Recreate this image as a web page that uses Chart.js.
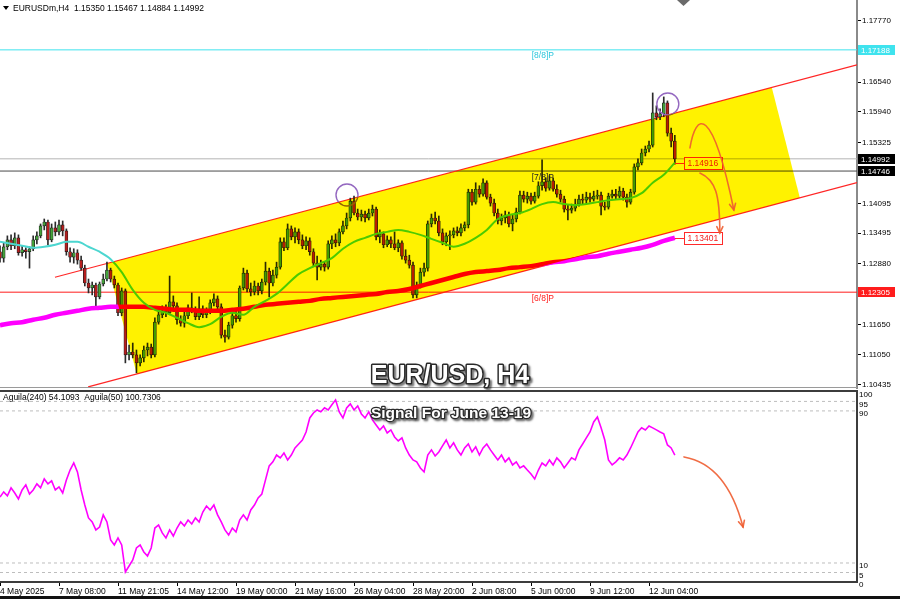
<!DOCTYPE html>
<html>
<head>
<meta charset="utf-8">
<script src="https://cdn.jsdelivr.net/npm/chart.js@4.4.1/dist/chart.umd.min.js"></script>
<style>
html, body { margin: 0; padding: 0; background: #fff; }
#wrap { position: relative; width: 900px; height: 599px; overflow: hidden; background: #fff; }
#main { position: absolute; left: 0; top: 0; }
#ind { position: absolute; left: 0; top: 380px; }
#frame { position: absolute; left: 0; top: 0; width: 900px; height: 599px; box-sizing: border-box;
         border-bottom: 3px solid #111; pointer-events: none; }
</style>
</head>
<body>
<div id="wrap">
  <canvas id="main" width="900" height="390"></canvas>
  <canvas id="ind" width="900" height="219"></canvas>
  <div id="frame"></div>
</div>
<script>
// H4 bars, one every 4 hours, time label every 16 bars
const timeLabels = ['4 May 2025', '7 May 08:00', '11 May 21:05', '14 May 12:00', '19 May 00:00', '21 May 16:00',
    '26 May 04:00', '28 May 20:00', '2 Jun 08:00', '5 Jun 00:00', '9 Jun 12:00', '12 Jun 04:00'];
const LABEL_EVERY = 16;

const opens = [
    1.1312, 1.1299, 1.1322, 1.1336, 1.1324, 1.1340, 1.1310, 1.1316, 1.1312, 1.1318, 1.1336, 1.1344, 1.1364, 1.1372, 1.1336, 1.1360,
    1.1352, 1.1366, 1.1354, 1.1312, 1.1301, 1.1310, 1.1295, 1.1279, 1.1249, 1.1239, 1.1245, 1.1221, 1.1247, 1.1257, 1.1275, 1.1257,
    1.1245, 1.1189, 1.1233, 1.1104, 1.1110, 1.1104, 1.1088, 1.1098, 1.1114, 1.1120, 1.1104, 1.1170, 1.1185, 1.1193, 1.1189, 1.1211,
    1.1203, 1.1175, 1.1168, 1.1183, 1.1199, 1.1193, 1.1181, 1.1197, 1.1185, 1.1193, 1.1209, 1.1217, 1.1201, 1.1144, 1.1140, 1.1164,
    1.1183, 1.1177, 1.1239, 1.1269, 1.1237, 1.1231, 1.1243, 1.1233, 1.1251, 1.1273, 1.1249, 1.1265, 1.1281, 1.1332, 1.1320, 1.1358,
    1.1342, 1.1352, 1.1336, 1.1324, 1.1334, 1.1312, 1.1289, 1.1281, 1.1287, 1.1281, 1.1328, 1.1336, 1.1330, 1.1352, 1.1364, 1.1380,
    1.1414, 1.1390, 1.1382, 1.1388, 1.1380, 1.1390, 1.1398, 1.1342, 1.1348, 1.1326, 1.1336, 1.1328, 1.1320, 1.1330, 1.1303, 1.1295,
    1.1285, 1.1225, 1.1245, 1.1271, 1.1279, 1.1368, 1.1380, 1.1374, 1.1350, 1.1332, 1.1344, 1.1346, 1.1354, 1.1350, 1.1360, 1.1366,
    1.1432, 1.1412, 1.1438, 1.1428, 1.1451, 1.1422, 1.1410, 1.1390, 1.1374, 1.1380, 1.1386, 1.1368, 1.1378, 1.1392, 1.1426, 1.1418,
    1.1424, 1.1414, 1.1424, 1.1445, 1.1453, 1.1440, 1.1455, 1.1438, 1.1428, 1.1418, 1.1398, 1.1396, 1.1400, 1.1408, 1.1418, 1.1416,
    1.1422, 1.1418, 1.1424, 1.1426, 1.1404, 1.1402, 1.1424, 1.1428, 1.1424, 1.1434, 1.1422, 1.1412, 1.1432, 1.1483, 1.1491, 1.1511,
    1.1519, 1.1527, 1.1592, 1.1584, 1.1590, 1.1612, 1.1551, 1.15350
];
const highs = [
    1.1324, 1.1330, 1.1344, 1.1346, 1.1350, 1.1346, 1.1324, 1.1320, 1.1322, 1.1344, 1.1352, 1.1368, 1.1378, 1.1376, 1.1368, 1.1372,
    1.1376, 1.1374, 1.1358, 1.1320, 1.1318, 1.1316, 1.1303, 1.1285, 1.1257, 1.1251, 1.1249, 1.1251, 1.1267, 1.1291, 1.1279, 1.1263,
    1.1249, 1.1239, 1.1237, 1.1124, 1.1128, 1.1114, 1.1104, 1.1122, 1.1128, 1.1126, 1.1179, 1.1195, 1.1203, 1.1205, 1.1263, 1.1223,
    1.1209, 1.1183, 1.1191, 1.1205, 1.1229, 1.1201, 1.1221, 1.1203, 1.1199, 1.1215, 1.1227, 1.1223, 1.1207, 1.1154, 1.1170, 1.1189,
    1.1193, 1.1243, 1.1279, 1.1275, 1.1249, 1.1253, 1.1249, 1.1257, 1.1291, 1.1279, 1.1275, 1.1291, 1.1340, 1.1340, 1.1368, 1.1364,
    1.1360, 1.1358, 1.1346, 1.1342, 1.1340, 1.1318, 1.1303, 1.1295, 1.1291, 1.1334, 1.1344, 1.1348, 1.1358, 1.1374, 1.1390, 1.1420,
    1.1424, 1.1398, 1.1396, 1.1394, 1.1398, 1.1406, 1.1402, 1.1356, 1.1352, 1.1344, 1.1342, 1.1352, 1.1336, 1.1334, 1.1316, 1.1305,
    1.1291, 1.1251, 1.1279, 1.1289, 1.1374, 1.1388, 1.1392, 1.1384, 1.1358, 1.1350, 1.1354, 1.1360, 1.1362, 1.1368, 1.1372, 1.1438,
    1.1438, 1.1451, 1.1445, 1.1459, 1.1455, 1.1428, 1.1418, 1.1398, 1.1388, 1.1394, 1.1392, 1.1386, 1.1400, 1.1434, 1.1434, 1.1432,
    1.1430, 1.1432, 1.1453, 1.1497, 1.1461, 1.1465, 1.1461, 1.1447, 1.1436, 1.1424, 1.1406, 1.1408, 1.1418, 1.1426, 1.1428, 1.1432,
    1.1430, 1.1434, 1.1436, 1.1432, 1.1412, 1.1430, 1.1436, 1.1438, 1.1443, 1.1440, 1.1428, 1.1438, 1.1489, 1.1499, 1.1519, 1.1525,
    1.1535, 1.1632, 1.1606, 1.1600, 1.1624, 1.1616, 1.1561, 1.15467
];
const lows = [
    1.1291, 1.1291, 1.1316, 1.1316, 1.1318, 1.1305, 1.1303, 1.1299, 1.1279, 1.1314, 1.1328, 1.1340, 1.1356, 1.1326, 1.1332, 1.1344,
    1.1346, 1.1344, 1.1305, 1.1291, 1.1289, 1.1287, 1.1275, 1.1243, 1.1229, 1.1225, 1.1195, 1.1217, 1.1243, 1.1253, 1.1251, 1.1239,
    1.1183, 1.1183, 1.1088, 1.1094, 1.1098, 1.1068, 1.1082, 1.1090, 1.1102, 1.1098, 1.1100, 1.1166, 1.1179, 1.1181, 1.1185, 1.1197,
    1.1166, 1.1162, 1.1160, 1.1177, 1.1189, 1.1175, 1.1175, 1.1179, 1.1179, 1.1187, 1.1203, 1.1195, 1.1138, 1.1130, 1.1136, 1.1158,
    1.1170, 1.1172, 1.1235, 1.1231, 1.1223, 1.1225, 1.1225, 1.1227, 1.1245, 1.1221, 1.1243, 1.1259, 1.1277, 1.1314, 1.1316, 1.1336,
    1.1330, 1.1328, 1.1318, 1.1316, 1.1305, 1.1283, 1.1255, 1.1275, 1.1273, 1.1277, 1.1318, 1.1322, 1.1324, 1.1348, 1.1358, 1.1374,
    1.1386, 1.1376, 1.1374, 1.1372, 1.1376, 1.1384, 1.1336, 1.1330, 1.1320, 1.1322, 1.1320, 1.1316, 1.1312, 1.1297, 1.1289, 1.1279,
    1.1219, 1.1219, 1.1239, 1.1263, 1.1273, 1.1362, 1.1368, 1.1344, 1.1326, 1.1324, 1.1316, 1.1340, 1.1344, 1.1344, 1.1354, 1.1360,
    1.1406, 1.1408, 1.1422, 1.1424, 1.1418, 1.1404, 1.1384, 1.1368, 1.1366, 1.1370, 1.1362, 1.1354, 1.1372, 1.1388, 1.1412, 1.1410,
    1.1408, 1.1410, 1.1420, 1.1436, 1.1434, 1.1436, 1.1434, 1.1422, 1.1412, 1.1392, 1.1376, 1.1390, 1.1394, 1.1404, 1.1408, 1.1410,
    1.1412, 1.1414, 1.1418, 1.1386, 1.1396, 1.1398, 1.1420, 1.1418, 1.1420, 1.1416, 1.1402, 1.1408, 1.1428, 1.1477, 1.1487, 1.1505,
    1.1513, 1.1523, 1.1578, 1.1578, 1.1584, 1.1545, 1.1523, 1.14884
];
const closes = [
    1.1299, 1.1322, 1.1336, 1.1324, 1.1340, 1.1310, 1.1316, 1.1312, 1.1318, 1.1336, 1.1344, 1.1364, 1.1372, 1.1336, 1.1360, 1.1352,
    1.1366, 1.1354, 1.1312, 1.1301, 1.1310, 1.1295, 1.1279, 1.1249, 1.1239, 1.1245, 1.1221, 1.1247, 1.1257, 1.1275, 1.1257, 1.1245,
    1.1189, 1.1233, 1.1104, 1.1110, 1.1104, 1.1088, 1.1098, 1.1114, 1.1120, 1.1104, 1.1170, 1.1185, 1.1193, 1.1189, 1.1211, 1.1203,
    1.1175, 1.1168, 1.1183, 1.1199, 1.1193, 1.1181, 1.1197, 1.1185, 1.1193, 1.1209, 1.1217, 1.1201, 1.1144, 1.1140, 1.1164, 1.1183,
    1.1177, 1.1239, 1.1269, 1.1237, 1.1231, 1.1243, 1.1233, 1.1251, 1.1273, 1.1249, 1.1265, 1.1281, 1.1332, 1.1320, 1.1358, 1.1342,
    1.1352, 1.1336, 1.1324, 1.1334, 1.1312, 1.1289, 1.1281, 1.1287, 1.1281, 1.1328, 1.1336, 1.1330, 1.1352, 1.1364, 1.1380, 1.1414,
    1.1390, 1.1382, 1.1388, 1.1380, 1.1390, 1.1398, 1.1342, 1.1348, 1.1326, 1.1336, 1.1328, 1.1320, 1.1330, 1.1303, 1.1295, 1.1285,
    1.1225, 1.1245, 1.1271, 1.1279, 1.1368, 1.1380, 1.1374, 1.1350, 1.1332, 1.1344, 1.1346, 1.1354, 1.1350, 1.1360, 1.1366, 1.1432,
    1.1412, 1.1438, 1.1428, 1.1451, 1.1422, 1.1410, 1.1390, 1.1374, 1.1380, 1.1386, 1.1368, 1.1378, 1.1392, 1.1426, 1.1418, 1.1424,
    1.1414, 1.1424, 1.1445, 1.1453, 1.1440, 1.1455, 1.1438, 1.1428, 1.1418, 1.1398, 1.1396, 1.1400, 1.1408, 1.1418, 1.1416, 1.1422,
    1.1418, 1.1424, 1.1426, 1.1404, 1.1402, 1.1424, 1.1428, 1.1424, 1.1434, 1.1422, 1.1412, 1.1432, 1.1483, 1.1491, 1.1511, 1.1519,
    1.1527, 1.1592, 1.1584, 1.1590, 1.1612, 1.1551, 1.1535, 1.14992
];

// moving averages, one value every MA_STEP bars
const MA_STEP = 3;
const fastMA = [
    1.1332, 1.1328, 1.1324, 1.1320, 1.1322, 1.1326, 1.1332, 1.1332, 1.1322, 1.1312, 1.1297, 1.1271, 1.1235, 1.1209, 1.1195, 1.1189,
    1.1179, 1.1168, 1.1160, 1.1166, 1.1181, 1.1189, 1.1185, 1.1201, 1.1213, 1.1227, 1.1247, 1.1267, 1.1279, 1.1289, 1.1299, 1.1318,
    1.1332, 1.1340, 1.1348, 1.1352, 1.1356, 1.1352, 1.1346, 1.1338, 1.1330, 1.1322, 1.1328, 1.1340, 1.1356, 1.1378, 1.1386, 1.1390,
    1.1398, 1.1408, 1.1412, 1.1408, 1.1406, 1.1408, 1.1412, 1.1416, 1.1418, 1.1420, 1.1430, 1.1451, 1.1467, 1.14916
];
const slowMA = [
    1.1164, 1.1168, 1.1170, 1.1175, 1.1179, 1.1185, 1.1189, 1.1193, 1.1197, 1.1199, 1.1201, 1.1201, 1.1201, 1.1201, 1.1199, 1.1197,
    1.1195, 1.1195, 1.1193, 1.1193, 1.1193, 1.1195, 1.1197, 1.1201, 1.1205, 1.1207, 1.1209, 1.1211, 1.1213, 1.1217, 1.1219, 1.1221,
    1.1223, 1.1225, 1.1227, 1.1231, 1.1233, 1.1237, 1.1243, 1.1249, 1.1255, 1.1261, 1.1267, 1.1271, 1.1273, 1.1275, 1.1279, 1.1281,
    1.1283, 1.1287, 1.1291, 1.1293, 1.1297, 1.1301, 1.1303, 1.1308, 1.1312, 1.1316, 1.1320, 1.1326, 1.1334, 1.13401
];

// Aguila(240) oscillator, one value per bar
const aguila = [
    44.7, 47.4, 45.3, 49.5, 46.8, 43.7, 48.4, 51.1, 46.3, 48.4, 51.6, 49.5, 54.2, 51.6, 53.2, 48.4,
    50.0, 46.8, 53.7, 58.9, 62.6, 57.9, 48.4, 40.5, 33.7, 31.6, 27.4, 28.9, 35.3, 31.6, 22.1, 19.5,
    23.2, 19.5, 5.3, 8.4, 11.6, 17.9, 19.5, 15.8, 13.7, 17.9, 28.4, 30.0, 25.8, 23.2, 27.4, 24.2,
    28.4, 31.6, 29.5, 32.6, 30.5, 33.7, 31.6, 36.8, 40.0, 37.9, 40.5, 35.3, 31.6, 27.4, 24.7, 28.4,
    26.3, 32.6, 35.3, 32.6, 37.9, 40.5, 44.2, 46.3, 53.7, 61.1, 63.2, 66.8, 65.3, 67.9, 64.2, 66.8,
    70.5, 72.6, 74.7, 78.9, 86.3, 88.9, 90.5, 89.5, 91.6, 90.5, 93.2, 95.8, 89.5, 86.3, 91.6, 93.7,
    90.5, 92.6, 88.4, 86.3, 89.5, 85.3, 82.6, 80.0, 82.1, 78.4, 80.0, 76.3, 74.2, 75.8, 70.5, 66.8,
    64.2, 63.2, 60.0, 57.9, 66.8, 69.5, 66.3, 68.4, 71.6, 74.7, 70.5, 73.2, 69.5, 66.8, 70.5, 72.6,
    68.4, 71.1, 66.8, 70.5, 72.6, 69.5, 66.8, 64.2, 66.8, 63.2, 65.3, 61.6, 63.2, 60.0, 61.1, 58.9,
    56.8, 54.2, 58.9, 62.6, 61.1, 64.2, 61.6, 65.3, 63.2, 60.0, 62.6, 65.3, 64.2, 69.5, 72.6, 75.8,
    78.9, 84.2, 86.8, 81.1, 74.7, 64.2, 61.6, 63.2, 65.3, 64.2, 66.8, 70.5, 74.7, 78.9, 81.1, 80.0,
    82.1, 81.1, 80.0, 78.9, 77.9, 72.1, 70.5, 66.8
];

const priceTicks = [1.17770, 1.17155, 1.16540, 1.15940, 1.15325, 1.14710, 1.14095, 1.13495, 1.12880, 1.12265, 1.11650, 1.11050, 1.10435];
const levelTicks = [0, 5, 10, 90, 95, 100];
const dashedLevels = [5, 10, 90, 95];

// horizontal lines: [8/8] level, bid, [7/8] level, [6/8] level
const hLines = [1.17188, 1.14992, 1.14746, 1.12305];
const hLineColors = ['#3fe3ee', '#b4b4b4', '#4a4a4a', '#ff1c1c'];
const murreyText = ['[8/8]P', '[7/8]P', '[6/8]P'];
const murreyPrice = [1.17188, 1.14746, 1.12305];
const murreyColors = ['#2cc6dc', '#222', '#ff2020'];
const MURREY_AT = 144.2;

// channel (bar index, price)
const upperLineX = [14.9, 232.4], upperLineY = [1.12606, 1.16886];
const lowerLineX = [23.9, 232.4], lowerLineY = [1.10396, 1.14515];
const channelX = [29.0, 209.3, 216.9, 37.1];
const channelY = [1.12883, 1.16432, 1.14209, 1.10657];

const circleX = [94.1, 181.1], circleY = [1.14264, 1.16097];
const tagPrices = [1.14916, 1.13401];
const TAG_AT = 185.5;

// forecast arrows (cubic curves, bar index / value)
const arrowsMain = [
    [[187.1, 1.15211], [188.7, 1.15936], [193.1, 1.16097], [199.0, 1.13961]],
    [[189.8, 1.14707], [194.1, 1.14566], [195.2, 1.14264], [195.2, 1.13498]]
];
const arrowInd = [[185.5, 65.8], [193.1, 63.2], [198.5, 51.1], [201.5, 28.9]];

const X_MIN = 0, X_MAX = 232.4;
const P_MIN = 1.10374, P_MAX = 1.18193;
const FONT = 'Liberation Sans';

function drawArrow(ctx, pts) {
    ctx.save();
    ctx.strokeStyle = 'rgba(238, 92, 48, 0.9)';
    ctx.lineWidth = 1.6;
    ctx.lineCap = 'round';
    ctx.beginPath();
    ctx.moveTo(pts[0][0], pts[0][1]);
    ctx.bezierCurveTo(pts[1][0], pts[1][1], pts[2][0], pts[2][1], pts[3][0], pts[3][1]);
    ctx.stroke();
    const [tx, ty] = pts[3];
    const a = Math.atan2(ty - pts[2][1], tx - pts[2][0]);
    ctx.beginPath();
    ctx.moveTo(tx - 7 * Math.cos(a - 0.45), ty - 7 * Math.sin(a - 0.45));
    ctx.lineTo(tx, ty);
    ctx.lineTo(tx - 7 * Math.cos(a + 0.45), ty - 7 * Math.sin(a + 0.45));
    ctx.stroke();
    ctx.restore();
}

function outlinedText(ctx, text, x, y, size, stroke) {
    ctx.save();
    ctx.font = 'bold ' + size + 'px "' + FONT + '"';
    ctx.textAlign = 'center';
    ctx.textBaseline = 'alphabetic';
    ctx.lineJoin = 'round';
    ctx.shadowColor = 'rgba(0,0,0,0.55)';
    ctx.shadowOffsetX = 2;
    ctx.shadowOffsetY = 2;
    ctx.shadowBlur = 2;
    ctx.strokeStyle = '#2a2a2a';
    ctx.lineWidth = stroke;
    ctx.strokeText(text, x, y);
    ctx.shadowColor = 'transparent';
    ctx.fillStyle = '#fff';
    ctx.fillText(text, x, y);
    ctx.restore();
}

const mainPlugin = {
    id: 'mainDecor',
    afterDatasetsDraw(chart) {
        const { ctx, chartArea: a, scales: { x, y } } = chart;
        const X = v => x.getPixelForValue(v), Y = v => y.getPixelForValue(v);
        ctx.save();
        ctx.beginPath();
        ctx.rect(a.left, a.top, a.width, a.height);
        ctx.clip();

        // value tags for the two moving averages
        ctx.font = '8.5px "' + FONT + '"';
        ctx.textBaseline = 'middle';
        tagPrices.forEach(v => {
            const py = Math.round(Y(v)) + 0.5, bx = Math.round(X(TAG_AT)) + 0.5;
            ctx.strokeStyle = '#ff2a2a';
            ctx.lineWidth = 1;
            ctx.beginPath();
            ctx.moveTo(X(closes.length - 1), py);
            ctx.lineTo(bx, py);
            ctx.stroke();
            ctx.fillStyle = '#fff';
            ctx.fillRect(bx, py - 6, 38, 12);
            ctx.strokeRect(bx, py - 6, 38, 12);
            ctx.fillStyle = '#f01c1c';
            ctx.fillText(v.toFixed(5), bx + 3, py + 0.5);
        });

        // yellow channel, drawn like MT4 background objects
        ctx.globalCompositeOperation = 'multiply';
        ctx.beginPath();
        channelX.forEach((v, k) => k ? ctx.lineTo(X(v), Y(channelY[k])) : ctx.moveTo(X(v), Y(channelY[k])));
        ctx.closePath();
        ctx.fillStyle = '#fff200';
        ctx.fill();
        ctx.globalCompositeOperation = 'source-over';

        ctx.font = '8.5px "' + FONT + '"';
        ctx.textBaseline = 'top';
        murreyText.forEach((t, k) => {
            ctx.fillStyle = murreyColors[k];
            ctx.fillText(t, X(MURREY_AT), Y(murreyPrice[k]) + 2);
        });

        arrowsMain.forEach(p => drawArrow(ctx, p.map(q => [X(q[0]), Y(q[1])])));
        ctx.restore();
    },
    afterDraw(chart) {
        const { ctx, chartArea: a, scales: { y } } = chart;
        ctx.save();
        // panel bottom edge
        ctx.strokeStyle = '#9a9a9a';
        ctx.lineWidth = 1;
        ctx.beginPath();
        ctx.moveTo(0, a.bottom - 0.5);
        ctx.lineTo(a.right, a.bottom - 0.5);
        ctx.stroke();

        // price tags on the axis
        const tagColors = ['#3fe3ee', '#000', '#000', '#ff1c1c'];
        ctx.font = '8px "' + FONT + '"';
        ctx.textBaseline = 'middle';
        hLines.forEach((v, k) => {
            const py = Math.round(y.getPixelForValue(v));
            ctx.fillStyle = tagColors[k];
            ctx.fillRect(a.right + 1, py - 5, 37, 10);
            ctx.fillStyle = '#fff';
            ctx.fillText(v.toFixed(5), a.right + 4, py + 0.5);
        });

        // header
        ctx.fillStyle = '#000';
        ctx.beginPath();
        ctx.moveTo(3, 6); ctx.lineTo(9, 6); ctx.lineTo(6, 10); ctx.closePath();
        ctx.fill();
        ctx.font = '8.5px "' + FONT + '"';
        ctx.fillText('EURUSDm,H4  ' + [opens, highs, lows, closes].map(s => s[s.length - 1].toFixed(5)).join(' '), 13, 8.5);

        // chart shift marker
        ctx.fillStyle = '#6a6a6a';
        ctx.beginPath();
        ctx.moveTo(677, 0); ctx.lineTo(690, 0); ctx.lineTo(683.5, 6); ctx.closePath();
        ctx.fill();
        ctx.restore();

        outlinedText(ctx, 'EUR/USD, H4', 450, 383, 25, 3);
    }
};

const indPlugin = {
    id: 'indDecor',
    afterDraw(chart) {
        const { ctx, chartArea: a, scales: { x, y } } = chart;
        ctx.save();
        ctx.strokeStyle = '#3c3c3c';
        ctx.lineWidth = 2;
        ctx.strokeRect(a.left - 2, a.top + 1, a.width + 2, a.height - 1);
        ctx.fillStyle = '#000';
        ctx.font = '8.5px "' + FONT + '"';
        ctx.textBaseline = 'middle';
        ctx.fillText('Aguila(240) 54.1093  Aguila(50) 100.7306', 3, a.top + 8);
        drawArrow(ctx, arrowInd.map(q => [x.getPixelForValue(q[0]), y.getPixelForValue(q[1])]));
        ctx.restore();
        outlinedText(ctx, 'Signal For June 13-19', 451, 38, 15.5, 2.5);
    }
};

const flat = (v, color, extra) => Object.assign({
    type: 'line', data: [{ x: X_MIN, y: v }, { x: X_MAX, y: v }],
    borderColor: color, borderWidth: 1, pointRadius: 0
}, extra || {});

new Chart(document.getElementById('main'), {
    type: 'line',
    data: {
        datasets: [
            ...hLines.map((v, k) => flat(v, hLineColors[k], { order: 10 })),
            {
                type: 'line', data: upperLineX.map((v, k) => ({ x: v, y: upperLineY[k] })),
                borderColor: '#ff2626', borderWidth: 1.2, pointRadius: 0, order: 9
            },
            {
                type: 'line', data: lowerLineX.map((v, k) => ({ x: v, y: lowerLineY[k] })),
                borderColor: '#ff2626', borderWidth: 1.2, pointRadius: 0, order: 9
            },
            {
                type: 'bar', data: lows.map((v, i) => ({ x: i, y: [v, highs[i]] })),
                backgroundColor: '#2b2b2b', barThickness: 1, grouped: false, minBarLength: 1, order: 8
            },
            {
                type: 'bar', data: opens.map((v, i) => ({ x: i, y: [v, closes[i]] })),
                backgroundColor: opens.map((v, i) => closes[i] >= v ? '#43a33a' : '#b71e1e'),
                borderColor: '#1e1e1e', borderWidth: 0.7, borderSkipped: false,
                barThickness: 3, grouped: false, minBarLength: 1, order: 7
            },
            {
                type: 'line', data: slowMA.map((v, k) => ({ x: k * MA_STEP, y: v })),
                borderColor: '#ff00ff', borderWidth: 4.5, pointRadius: 0, cubicInterpolationMode: 'monotone', order: 6
            },
            {
                type: 'line', data: fastMA.map((v, k) => ({ x: k * MA_STEP, y: v })),
                borderColor: '#4cd6d0', borderWidth: 2, pointRadius: 0, cubicInterpolationMode: 'monotone', order: 5
            },
            {
                type: 'line', data: circleX.map((v, k) => ({ x: v, y: circleY[k] })), showLine: false,
                pointRadius: 11, pointBackgroundColor: 'rgba(0,0,0,0)', pointBorderColor: '#9468c0',
                pointBorderWidth: 1.4, order: 4
            }
        ]
    },
    options: {
        responsive: false,
        animation: false,
        devicePixelRatio: 1,
        layout: { autoPadding: false, padding: { top: 0, bottom: 2, left: 0, right: 0 } },
        plugins: { legend: { display: false }, tooltip: { enabled: false } },
        scales: {
            x: { type: 'linear', min: X_MIN, max: X_MAX, offset: false, display: false },
            y: {
                type: 'linear', position: 'right', min: P_MIN, max: P_MAX,
                afterFit(s) { s.width = 43; s.paddingTop = 0; s.paddingBottom = 0; },
                afterBuildTicks(s) { s.ticks = priceTicks.map(v => ({ value: v })); },
                ticks: { callback: v => v.toFixed(5), color: '#000', padding: 1, font: { family: FONT, size: 8 } },
                grid: { drawOnChartArea: false, drawTicks: true, tickLength: 4, color: '#000' },
                border: { display: true, color: '#8a8a8a', width: 2 }
            }
        }
    },
    plugins: [mainPlugin]
});

new Chart(document.getElementById('ind'), {
    type: 'line',
    data: {
        datasets: [
            {
                data: aguila.map((v, i) => ({ x: i, y: v })),
                borderColor: '#ff00ff', borderWidth: 1.6, pointRadius: 0, tension: 0, order: 1
            },
            ...dashedLevels.map(v => flat(v, '#bdbdbd', { borderDash: [3, 3], order: 5 }))
        ]
    },
    options: {
        responsive: false,
        animation: false,
        devicePixelRatio: 1,
        layout: { autoPadding: false, padding: { top: 10, bottom: 0, left: 0, right: 0 } },
        plugins: { legend: { display: false }, tooltip: { enabled: false } },
        scales: {
            x: {
                type: 'linear', min: X_MIN, max: X_MAX, offset: false,
                afterFit(s) { s.height = 17; s.paddingLeft = 0; s.paddingRight = 0; },
                afterBuildTicks(s) { s.ticks = timeLabels.map((t, k) => ({ value: k * LABEL_EVERY })); },
                ticks: {
                    align: 'start', autoSkip: false, maxRotation: 0, padding: 1, color: '#000',
                    font: { family: FONT, size: 8.5 }, callback: (v, k) => timeLabels[k]
                },
                grid: { drawOnChartArea: false, drawTicks: true, tickLength: 4, color: '#000' },
                border: { display: false }
            },
            y: {
                type: 'linear', position: 'right', min: 0, max: 101,
                afterFit(s) { s.width = 43; s.paddingTop = 0; s.paddingBottom = 0; },
                afterBuildTicks(s) { s.ticks = levelTicks.map(v => ({ value: v })); },
                ticks: { padding: 2, labelOffset: 3, color: '#000', font: { family: FONT, size: 8 }, callback: v => String(v) },
                grid: { display: false, drawTicks: false },
                border: { display: false }
            }
        }
    },
    plugins: [indPlugin]
});
</script>
</body>
</html>
